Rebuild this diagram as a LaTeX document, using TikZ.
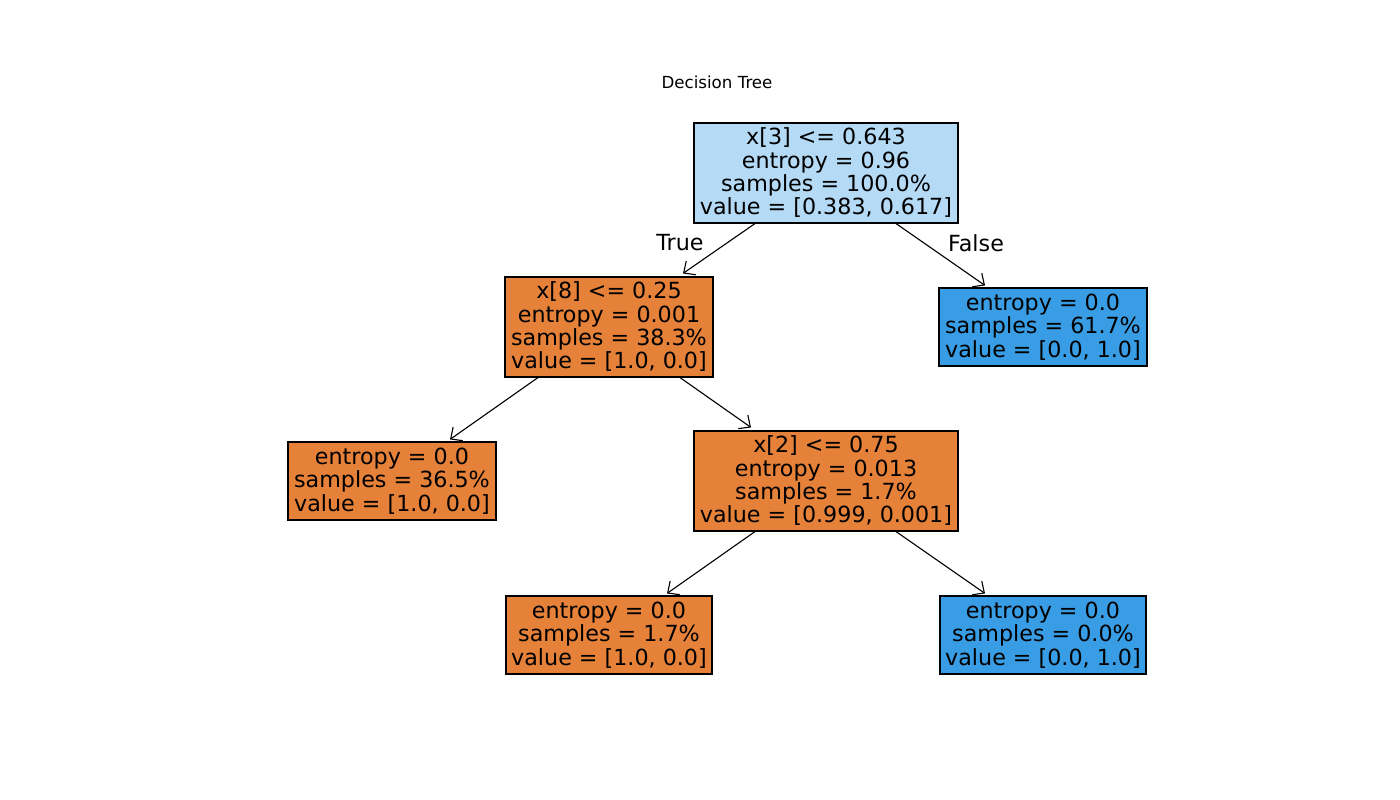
\documentclass[tikz,border=0pt]{standalone}
\usepackage{fontspec}
\setmainfont{DejaVu Sans}
\usetikzlibrary{calc,arrows.meta}
\definecolor{orng}{HTML}{E58139}
\definecolor{blu}{HTML}{399DE5}
\definecolor{lblu}{HTML}{B4DAF5}
\begin{document}
\begin{tikzpicture}[x=0.72pt,y=-0.72pt,
  box/.style={draw=black, line width=0.8pt, align=center, inner sep=0pt,
    font=\fontsize{16pt}{16.8pt}\selectfont},
  big/.style={box, minimum width=264*0.72pt, minimum height=100*0.72pt},
  mid/.style={box, minimum width=208*0.72pt, minimum height=100*0.72pt},
  leaf/.style={box, minimum width=207*0.72pt, minimum height=78*0.72pt},
  lbl/.style={font=\fontsize{16pt}{16.8pt}\selectfont, inner sep=0pt},
  edge/.style={line width=0.8pt, -{Straight Barb[length=6.4pt,width=12pt,line width=0.8pt]}}]
\useasboundingbox (0,0) rectangle (1400,800);
\node[font=\fontsize{12pt}{14pt}\selectfont, inner sep=0pt] (title) at (717,82) {Decision Tree};
\node[big, fill=lblu] (root) at (826,173) {x[3] <= 0.643\\entropy = 0.96\\samples = 100.0\%\\value = [0.383, 0.617]};
\node[mid, fill=orng] (n8) at (609,327) {x[8] <= 0.25\\entropy = 0.001\\samples = 38.3\%\\value = [1.0, 0.0]};
\node[leaf, fill=blu, minimum width=208*0.72pt] (fl) at (1043,327) {entropy = 0.0\\samples = 61.7\%\\value = [0.0, 1.0]};
\node[leaf, fill=orng, minimum width=208*0.72pt] (l1) at (392,481) {entropy = 0.0\\samples = 36.5\%\\value = [1.0, 0.0]};
\node[big, fill=orng] (n2) at (826,481) {x[2] <= 0.75\\entropy = 0.013\\samples = 1.7\%\\value = [0.999, 0.001]};
\node[leaf, fill=orng, minimum width=206*0.72pt] (l2) at (609,635) {entropy = 0.0\\samples = 1.7\%\\value = [1.0, 0.0]};
\node[leaf, fill=blu, minimum width=206*0.72pt] (l3) at (1043,635) {entropy = 0.0\\samples = 0.0\%\\value = [0.0, 1.0]};
\node[lbl] (tl) at (680,243) {True};
\node[lbl] (fls) at (976,243) {False};
\draw[edge] ($(root.south)+(-71,0)$) -- ($(n8.north)+(74,-3)$);
\draw[edge] ($(root.south)+(70,0)$) -- ($(fl.north)+(-58,-2)$);
\draw[edge] ($(n8.south)+(-71,0)$) -- ($(l1.north)+(58,-2)$);
\draw[edge] ($(n8.south)+(71,0)$) -- ($(n2.north)+(-75,-3)$);
\draw[edge] ($(n2.south)+(-71,0)$) -- ($(l2.north)+(58,-2)$);
\draw[edge] ($(n2.south)+(70,0)$) -- ($(l3.north)+(-58,-2)$);
\end{tikzpicture}
\end{document}
